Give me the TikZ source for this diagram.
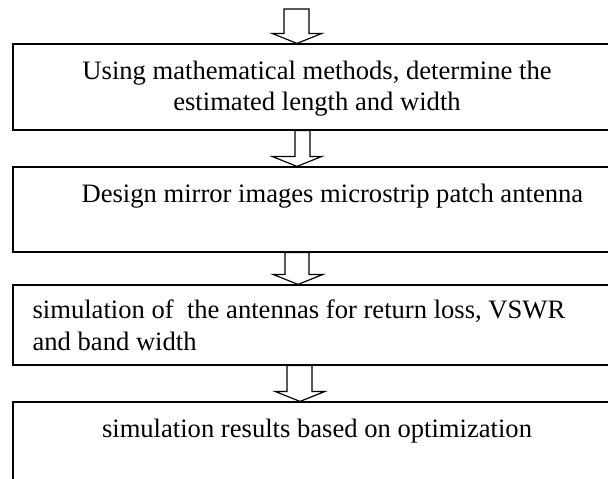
\documentclass[tikz,border=0pt]{standalone}
\usepackage{fontspec}
\setmainfont{Liberation Serif}
\usetikzlibrary{calc}

% hollow block arrow: from, to, shaft left x, shaft right x, tip x
\newcommand{\blockarrow}[5]{%
	\draw[blockarr] let \p1=(#1), \p2=(#2) in
	({#3pt},\y1) -- ({#4pt},\y1) -- ({#4pt},{\y2+10pt}) -- ({(#5+25)*1pt},{\y2+10pt})
	-- ({#5pt},\y2) -- ({(#5-25)*1pt},{\y2+10pt}) -- ({#3pt},{\y2+10pt}) -- cycle;}

\begin{document}
\begin{tikzpicture}[x=1pt, y=-1pt, line join=miter,
	font=\fontsize{26.6pt}{31.5pt}\selectfont,
	stepbox/.style={draw, line width=1.2pt, minimum width=608pt, inner sep=0pt},
	steptext/.style={inner sep=0pt},
	blockarr/.style={draw, line width=1.2pt, fill=white}]
	\useasboundingbox (0,0) rectangle (608,479);
	\clip (0,0) rectangle (608,479);
	\coordinate (top) at (297,9);
	% boxes
	\node[stepbox, minimum height=86pt] (b1) at (317,87) {};
	\node[stepbox, minimum height=85pt] (b2) at (317,209.5) {};
	\node[stepbox, minimum height=80pt] (b3) at (317,325) {};
	\node[stepbox, minimum height=90pt] (b4) at (317,447) {};
	% texts (base of a two-line node = last line)
	\node[steptext, align=center, anchor=base] (t1) at ([yshift=-67.5pt]b1.north)
		{Using mathematical methods, determine the\\estimated length and width};
	\node[steptext, anchor=base west] (t2) at ([xshift=69pt, yshift=-36pt]b2.north west)
		{Design mirror images microstrip patch antenna};
	\node[steptext, align=left, anchor=base west] (t3) at ([xshift=20pt, yshift=-66pt]b3.north west)
		{simulation of \ the antennas for return loss, VSWR\\and band width};
	\node[steptext, anchor=base] (t4) at ([yshift=-36pt]b4.north)
		{simulation results based on optimization};
	% arrows
	\blockarrow{top}{b1.north}{284}{309}{297}
	\blockarrow{b1.south}{b2.north}{295}{310}{297}
	\blockarrow{b2.south}{b3.north}{285}{309}{298}
	\blockarrow{b3.south}{b4.north}{287}{312}{300}
\end{tikzpicture}
\end{document}
